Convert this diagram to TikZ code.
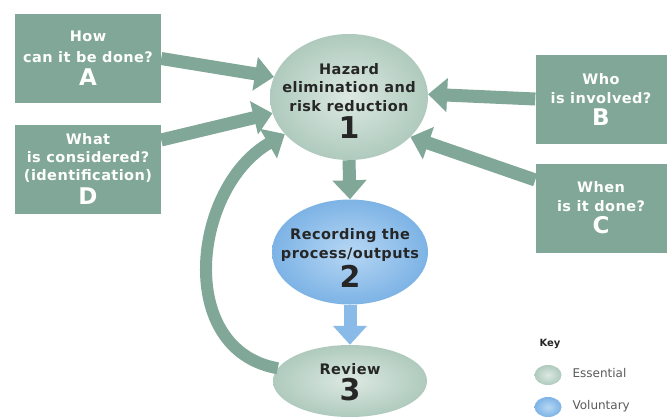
\documentclass[tikz,border=0pt]{standalone}
\usepackage{fontspec}
\setmainfont{DejaVu Sans}
\newfontfamily\widefont{DejaVu Sans}[LetterSpace=3]
\usetikzlibrary{shapes.geometric,arrows.meta}

\definecolor{boxgreen}{HTML}{80A797}
\definecolor{esslight}{HTML}{DCE9E2}
\definecolor{essdark}{HTML}{AFCABD}
\definecolor{vollight}{HTML}{B6D7F4}
\definecolor{voldark}{HTML}{7DB3E5}
\definecolor{stagetext}{HTML}{262626}
\definecolor{keytext}{HTML}{5A5A5A}

\newcommand{\bigletter}[1]{{\fontsize{23}{23}\selectfont #1}}
\newcommand{\bignum}[1]{{\fontsize{30}{30}\selectfont #1}}

\begin{document}
\begin{tikzpicture}[x=1pt,y=-1pt,
  qbox/.style={fill=boxgreen, text=white, minimum width=146pt, minimum height=89pt,
    inner sep=0pt, align=center, font=\widefont\bfseries\fontsize{14.5}{19}\selectfont},
  stage/.style={ellipse, inner sep=0pt},
  essential/.style={stage, shading=radial, inner color=esslight, outer color=essdark},
  voluntary/.style={stage, shading=radial, inner color=vollight, outer color=voldark},
  stagetitle/.style={inner sep=0pt, align=center, text=stagetext,
    font=\widefont\bfseries\fontsize{14.5}{18.5}\selectfont},
  flow/.style={draw=boxgreen, line width=13pt, -{Triangle[width=33pt,length=19pt]}},
  volflow/.style={flow, draw=voldark!90},
  keyblob/.style={ellipse, minimum width=27pt, minimum height=20pt, inner sep=0pt, shading=radial},
  keylabel/.style={anchor=west, text=keytext, font=\fontsize{12}{14}\selectfont},
]
\useasboundingbox[fill=white] (0,0) rectangle (671,416);

% question boxes
\node[qbox] (A) at (88,58.5) {How\\[2pt]can it be done?\\[4pt]\bigletter{A}};
\node[qbox, font=\widefont\bfseries\fontsize{14.5}{18}\selectfont] (D) at (88,169)
  {What\\is considered?\\(identification)\\[4pt]\bigletter{D}};
\node[qbox, minimum width=131pt] (B) at (601,99) {Who\\is involved?\\[3pt]\bigletter{B}};
\node[qbox, minimum width=131pt] (C) at (601,208) {When\\is it done?\\[3pt]\bigletter{C}};

% process stages (fixed-size ellipses, titles set on top)
\node[essential, minimum width=158pt, minimum height=126pt] (E1) at (349,97) {};
\node[voluntary, minimum width=156pt, minimum height=105pt] (E2) at (350,252) {};
\node[essential, minimum width=154pt, minimum height=72pt] (E3) at (350,381) {};
\node[stagetitle] (E1t) at (349,101) {Hazard\\elimination and\\risk reduction\\[4pt]\bignum{1}};
\node[stagetitle] (E2t) at (350,258) {Recording the\\process/outputs\\[3pt]\bignum{2}};
\node[stagetitle] (E3t) at (350,382) {Review\\[2pt]\bignum{3}};

% connectors
\draw[flow] (A.east) -- (E1.165);
\draw[flow] ([yshift=29pt]D.east) -- (E1.192);
\draw[flow] (B.west) -- (E1.2);
\draw[flow] ([yshift=28pt]C.west) -- (E1.-33);
\draw[flow] (E1.south) -- (E2.north);
\draw[volflow] (E2.south) -- (E3.north);
\draw[flow, line width=12pt] (E3.170) .. controls (175,350) and (192,188) .. (E1.210);

% key
\node[anchor=west, text=stagetext, font=\bfseries\fontsize{10}{11}\selectfont] (key) at (536,344) {Key};
\node[keyblob, inner color=esslight, outer color=essdark] (kE) at (548,375) {};
\node[keyblob, inner color=vollight, outer color=voldark] (kV) at (548,407) {};
\node[keylabel] (kEl) at (569,373) {Essential};
\node[keylabel] (kVl) at (569,406) {Voluntary};
\end{tikzpicture}
\end{document}
